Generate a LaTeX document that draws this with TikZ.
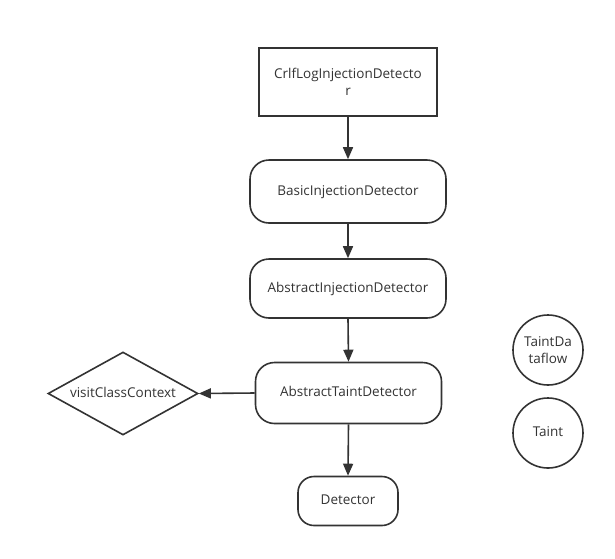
\documentclass[tikz,border=0pt]{standalone}
\usepackage{fontspec}
\setmainfont{Open Sans}
\usetikzlibrary{arrows.meta,shapes.geometric}
\definecolor{ln}{HTML}{333333}
\begin{document}
\begin{tikzpicture}[x=1pt,y=-1pt,
  base/.style={draw=ln,line width=1.6pt,inner sep=0pt,text=ln,font=\fontsize{13.5}{17}\selectfont,align=center},
  oneline/.style={text height=0.72em,text depth=0pt},
  rectbox/.style={base,rectangle},
  roundbox/.style={base,oneline,rectangle,rounded corners=19pt},
  decision/.style={base,oneline,diamond,shape aspect=1.8},
  circ/.style={base,circle,minimum size=70pt},
  conn/.style={draw=ln,line width=1.6pt,-{Triangle[length=12pt,width=10pt]}}]
\useasboundingbox (0,0) rectangle (615,558);
\node[rectbox,minimum width=178pt,minimum height=68pt] (crlf) at (348,82) {CrlfLogInjectionDetecto\\r};
\node[roundbox,minimum width=196pt,minimum height=63pt] (basic) at (348,191.5) {BasicInjectionDetector};
\node[roundbox,minimum width=196pt,minimum height=59pt] (absinj) at (348,288.5) {AbstractInjectionDetector};
\node[roundbox,minimum width=186pt,minimum height=61pt] (abstaint) at (348.5,393) {AbstractTaintDetector};
\node[roundbox,minimum width=100pt,minimum height=49pt,rounded corners=16pt] (det) at (348,501) {Detector};
\node[decision,minimum width=150pt,minimum height=83pt] (visit) at (123,393.5) {visitClassContext};
\node[circ] (tdf) at (548,350) {TaintDa\\taflow};
\node[circ,oneline] (taint) at (548,433) {Taint};
\draw[conn] (crlf.south) -- (basic.north);
\draw[conn] (basic.south) -- (absinj.north);
\draw[conn] (absinj.south) -- (abstaint.north);
\draw[conn] (abstaint.west) -- (visit.east);
\draw[conn] (abstaint.south) -- (det.north);
\end{tikzpicture}
\end{document}
